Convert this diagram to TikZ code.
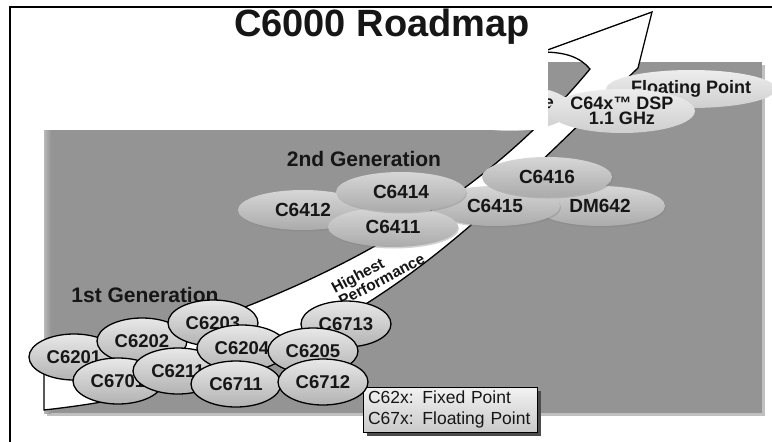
\documentclass[tikz,border=0pt]{standalone}
\usepackage{fontspec}
\setmainfont{Liberation Sans}
\usetikzlibrary{shapes.geometric,shadows}
\definecolor{rmpanel}{RGB}{148,148,148}
\definecolor{rmedge}{RGB}{192,192,192}
\definecolor{rmink}{RGB}{22,22,22}
\tikzset{
  oldchip/.style={ellipse,draw=black,line width=1.3pt,minimum width=90pt,minimum height=46pt,inner sep=0pt,
    top color=black!9,bottom color=black!30,text=rmink,font=\fontsize{18.5}{20}\selectfont\bfseries},
  newchip/.style={ellipse,minimum width=130pt,minimum height=40pt,inner sep=0pt,top color=black!16,bottom color=black!33,
    drop shadow={shadow xshift=1pt,shadow yshift=-1.5pt,opacity=0.35},text=rmink,font=\fontsize{19}{20}\selectfont\bfseries},
  topchip/.style={ellipse,inner sep=0pt,top color=black!7,bottom color=black!19,text=rmink,font=\fontsize{18}{15}\selectfont\bfseries},
  genlabel/.style={text=rmink,font=\fontsize{21}{24}\selectfont\bfseries},
  legendbox/.style={draw=black,line width=1pt,top color=black!5,bottom color=black!21,text width=164pt,inner xsep=5pt,
    minimum height=45pt,align=left,text=rmink,font=\fontsize{17.5}{20.5}\selectfont,
    drop shadow={shadow xshift=4pt,shadow yshift=-4pt,fill=black!70,opacity=1}}
}
\begin{document}
\begin{tikzpicture}[x=1pt,y=-1pt,line width=1.3pt]
  \useasboundingbox (0,0) rectangle (772,442);
  \draw[line width=2.2pt] (10,442) -- (10,7) -- (772,7);
  \fill[rmedge] (47,65) rectangle (765,416);
  \fill[rmpanel] (44,62) rectangle (762,413);
  \fill[left color=black!28,right color=rmpanel] (44,62) rectangle (51,413);

  \coordinate (tailhi) at (44,368);
  \coordinate (neck) at (590,69);
  \coordinate (barb) at (542,52);
  \coordinate (tip) at (652,12);
  \coordinate (heel) at (638,68);
  \coordinate (taillo) at (44,410);
  \filldraw[fill=white,draw=black] (tailhi) .. controls (294,310) and (470,214) .. (neck)
    .. controls (580,57) and (565,52) .. (barb) -- (tip) -- (heel)
    .. controls (458,239) and (344,377) .. (taillo) -- cycle;
  \draw[line width=1pt] (605,93) -- (611,85) -- (617,93);

  \node[topchip,minimum width=124pt,minimum height=46pt] (hidden) at (510,108) {};
  \node[text=rmink,font=\fontsize{18}{15}\selectfont\bfseries] (hiddentail) at (549,104) {e};
  \fill[white] (37,40) rectangle (548,130);
  \node[anchor=base,text=rmink,font=\fontsize{38}{40}\selectfont\bfseries] (title) at (382,36) {C6000 Roadmap};

  \node[topchip,minimum width=138pt,minimum height=38pt] (fpoint) at (691,89) {Floating Point};
  \node[topchip,minimum width=128pt,minimum height=44pt,align=center] (c64x) at (622,111) {C64x™ DSP\\1.1 GHz};

  \node[newchip] (dm642) at (600,206) {DM642};
  \node[newchip] (c6415) at (495,206) {C6415};
  \node[newchip] (c6412) at (303,210) {C6412};
  \node[newchip] (c6411) at (393,227) {C6411};
  \node[newchip] (c6414) at (401,192) {C6414};
  \node[newchip] (c6416) at (547,177) {C6416};

  \node[genlabel] (gentwo) at (364,159) {2nd Generation};
  \node[genlabel] (genone) at (145,295) {1st Generation};
  \node[rotate=28,align=left,text=rmink,font=\fontsize{15.5}{15}\selectfont\bfseries] (perf) at (378,273) {Highest\\Performance};

  \node[oldchip] (c6201) at (74,357) {C6201};
  \node[oldchip] (c6202) at (142,341) {C6202};
  \node[oldchip] (c6203) at (213,323) {C6203};
  \node[oldchip] (c6701) at (118,381) {C6701};
  \node[oldchip] (c6713) at (346,324) {C6713};
  \node[oldchip] (c6211) at (178,371) {C6211};
  \node[oldchip] (c6204) at (242,348) {C6204};
  \node[oldchip] (c6205) at (313,351) {C6205};
  \node[oldchip] (c6711) at (236,384) {C6711};
  \node[legendbox] (legend) at (450,409.5) {C62x: Fixed Point\\C67x: Floating Point};
  \node[oldchip] (c6712) at (323,382) {C6712};
\end{tikzpicture}
\end{document}
